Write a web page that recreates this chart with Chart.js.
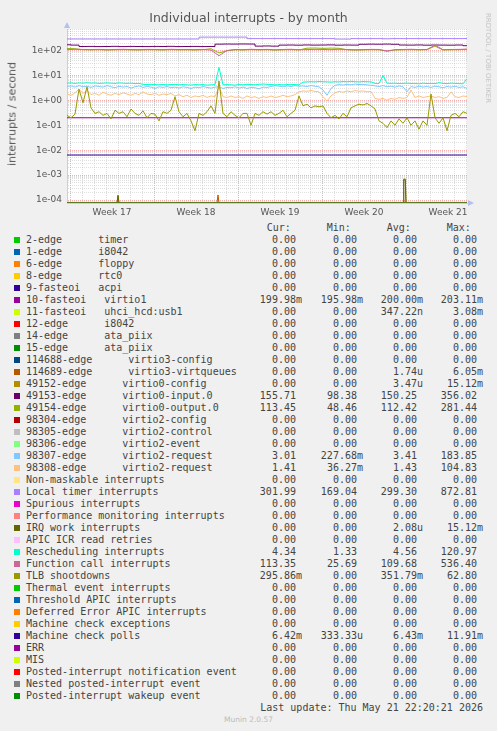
<!DOCTYPE html>
<html>
<head>
<meta charset="utf-8">
<script src="https://cdn.jsdelivr.net/npm/chart.js@4.4.1/dist/chart.umd.min.js"></script>
<style>
  body { margin: 0; background: #f0f0f0; width: 497px; height: 731px; position: relative; overflow: hidden;
         font-family: "DejaVu Sans", sans-serif; color: #555; }
  #chart { position: absolute; left: 0; top: 0; }
  .title { position: absolute; left: 0; top: 10px; width: 497px; text-align: center; font-size: 12.5px; }
  .ylab { position: absolute; left: 12px; top: 114px; transform: translate(-50%, -50%) rotate(-90deg);
          font-size: 11px; white-space: nowrap; }
  .rrd { position: absolute; left: 488px; top: 58px; transform: translate(-50%, -50%) rotate(90deg);
         font-size: 7px; color: #c4c4c4; white-space: nowrap; }
  .mono { position: absolute; font-family: "DejaVu Sans Mono", monospace; font-size: 10px; color: #444;
          height: 12px; line-height: 12px; white-space: pre; }
  .sw { position: absolute; left: 14px; width: 6px; height: 6px; }
  .munin { position: absolute; left: 0; width: 497px; top: 715px; text-align: center; font-size: 7.5px; color: #bbb; }
</style>
</head>
<body>
<canvas id="chart" width="497" height="222"></canvas>
<div class="title">Individual interrupts - by month</div>
<div class="ylab">interrupts / second</div>
<div class="rrd">RRDTOOL / TOBI OETIKER</div>
<div id="legend"></div>
<div class="munin">Munin 2.0.57</div>
<script>
// axis range / labels
const Y_MIN = 7.6e-5;
const Y_MAX = 730;
const weekLabels = ['Week 17', 'Week 18', 'Week 19', 'Week 20', 'Week 21'];

// munin palette
const palette = ['#00CC00', '#0066B3', '#FF8000', '#FFCC00', '#330099', '#990099', '#CCFF00', '#FF0000', '#808080',
  '#008F00', '#00487D', '#B35A00', '#B38F00', '#6B006B', '#8FB300', '#B30000', '#BEBEBE', '#80FF80', '#80C9FF',
  '#FFC080', '#FFE680', '#AA80FF', '#EE00CC', '#FF8080', '#666600', '#FFBFFF', '#00FFCC', '#CC6699', '#999900'];

const seriesNames = [
  '2-edge      timer', '1-edge      i8042', '6-edge      floppy', '8-edge      rtc0', '9-fasteoi   acpi',
  '10-fasteoi   virtio1', '11-fasteoi   uhci_hcd:usb1', '12-edge      i8042', '14-edge      ata_piix',
  '15-edge      ata_piix', '114688-edge      virtio3-config', '114689-edge      virtio3-virtqueues',
  '49152-edge      virtio0-config', '49153-edge      virtio0-input.0', '49154-edge      virtio0-output.0',
  '98304-edge      virtio2-config', '98305-edge      virtio2-control', '98306-edge      virtio2-event',
  '98307-edge      virtio2-request', '98308-edge      virtio2-request', 'Non-maskable interrupts',
  'Local timer interrupts', 'Spurious interrupts', 'Performance monitoring interrupts', 'IRQ work interrupts',
  'APIC ICR read retries', 'Rescheduling interrupts', 'Function call interrupts', 'TLB shootdowns',
  'Thermal event interrupts', 'Threshold APIC interrupts', 'Deferred Error APIC interrupts',
  'Machine check exceptions', 'Machine check polls', 'ERR', 'MIS', 'Posted-interrupt notification event',
  'Nested posted-interrupt event', 'Posted-interrupt wakeup event'];

const curVals = ['0.00','0.00','0.00','0.00','0.00','199.98m','0.00','0.00','0.00','0.00',
  '0.00','0.00','0.00','155.71','113.45','0.00','0.00','0.00','3.01','1.41',
  '0.00','301.99','0.00','0.00','0.00','0.00','4.34','113.35','295.86m','0.00',
  '0.00','0.00','0.00','6.42m','0.00','0.00','0.00','0.00','0.00'];
const minVals = ['0.00','0.00','0.00','0.00','0.00','195.98m','0.00','0.00','0.00','0.00',
  '0.00','0.00','0.00','98.38','48.46','0.00','0.00','0.00','227.68m','36.27m',
  '0.00','169.04','0.00','0.00','0.00','0.00','1.33','25.69','0.00','0.00',
  '0.00','0.00','0.00','333.33u','0.00','0.00','0.00','0.00','0.00'];
const avgVals = ['0.00','0.00','0.00','0.00','0.00','200.00m','347.22n','0.00','0.00','0.00',
  '0.00','1.74u','3.47u','150.25','112.42','0.00','0.00','0.00','3.41','1.43',
  '0.00','299.30','0.00','0.00','2.08u','0.00','4.56','109.68','351.79m','0.00',
  '0.00','0.00','0.00','6.43m','0.00','0.00','0.00','0.00','0.00'];
const maxVals = ['0.00','0.00','0.00','0.00','0.00','203.11m','3.08m','0.00','0.00','0.00',
  '0.00','6.05m','15.12m','356.02','281.44','0.00','0.00','0.00','183.85','104.83',
  '0.00','872.81','0.00','0.00','15.12m','0.00','120.97','536.40','62.80','0.00',
  '0.00','0.00','0.00','11.91m','0.00','0.00','0.00','0.00','0.00'];

// time grids, in 8-hour steps from the left edge
const fineX = Array.from({ length: 101 }, (_, i) => i);
const coarseX = Array.from({ length: 51 }, (_, i) => i * 2);
const flatX = [0, 100];

// series values (per second)
const tlb = [0.25, 0.2, 0.28, 2.8, 0.8, 3.5, 0.5, 0.3, 0.35, 0.25,
  0.3, 0.18, 0.4, 0.3, 0.35, 0.22, 0.45, 0.3, 0.25, 0.38,
  0.2, 0.3, 0.28, 0.15, 0.35, 0.3, 0.4, 1.4, 0.35, 0.22,
  0.3, 0.15, 0.06, 0.3, 0.25, 0.35, 0.6, 0.3, 6.0, 0.3,
  0.22, 0.35, 0.25, 0.2, 0.3, 0.3, 0.1, 0.3, 0.25, 0.35,
  0.28, 0.35, 0.25, 0.3, 0.4, 0.22, 0.3, 0.4, 1.5, 0.6,
  0.7, 0.5, 0.6, 0.55, 0.6, 0.3, 0.2, 0.25, 0.18, 0.3,
  0.22, 0.5, 0.6, 0.7, 0.65, 0.75, 0.6, 0.45, 0.15, 0.12,
  0.08, 0.15, 0.1, 0.18, 0.12, 0.2, 0.1, 0.15, 0.07, 0.15,
  0.1, 1.8, 0.2, 0.12, 0.2, 0.06, 0.25, 0.3, 0.22, 0.35, 0.3];
const req98307 = [3.6, 3.8, 3.4, 3.9, 3.5, 3.7, 3.3, 3.8, 3.6, 3.4,
  3.9, 3.5, 3.2, 3.7, 3.4, 3.6, 3.1, 3.5, 3.8, 3.3,
  3.6, 3.4, 3.0, 3.5, 3.3, 3.6, 3.2, 3.4, 3.1, 3.5,
  3.3, 3.0, 3.4, 3.2, 3.6, 3.3, 3.1, 3.4, 3.5, 3.0,
  3.3, 3.2, 3.5, 3.1, 3.4, 3.0, 3.3, 3.2, 2.9, 3.4,
  3.3, 3.6, 3.9, 3.7, 3.5, 3.8, 3.6, 3.9, 3.7, 3.8,
  3.6, 3.9, 3.7, 3.5, 2.6, 1.6, 3.0, 4.0, 4.3, 4.1,
  4.4, 4.2, 4.5, 4.3, 4.4, 4.2, 4.0, 3.8, 3.6, 3.9,
  3.5, 3.7, 3.4, 3.8, 3.5, 2.2, 3.6, 3.3, 3.7, 3.4,
  3.6, 3.3, 3.7, 3.5, 3.2, 3.6, 3.4, 3.7, 3.3, 3.5, 3.01];
const req98308 = [1.8, 1.6, 2.0, 2.8, 1.9, 2.5, 1.7, 1.9, 1.6, 2.1,
  1.8, 1.6, 1.9, 1.7, 2.0, 1.8, 1.6, 1.9, 1.7, 2.2,
  1.8, 1.7, 1.9, 1.6, 1.8, 1.7, 1.9, 1.5, 1.7, 1.4,
  1.6, 1.3, 1.5, 1.4, 1.6, 1.3, 1.5, 1.4, 3.5, 1.4,
  1.3, 1.5, 1.3, 1.4, 1.2, 1.5, 1.3, 1.4, 1.2, 1.4,
  1.3, 1.5, 1.3, 1.4, 1.6, 1.4, 1.5, 1.7, 2.2, 2.4,
  2.3, 2.5, 2.3, 2.2, 1.4, 0.95, 1.5, 2.0, 2.3, 2.1,
  2.4, 2.2, 2.5, 2.3, 2.4, 2.2, 2.3, 1.2, 1.1, 1.2,
  1.0, 1.2, 1.1, 1.3, 1.2, 1.3, 2.6, 1.3, 1.5, 1.3,
  1.4, 1.5, 1.3, 1.4, 1.2, 1.3, 2.2, 1.4, 1.3, 1.5, 1.41];
const resched = [4.9, 5.0, 4.8, 5.0, 4.9, 5.1, 4.9, 5.0, 4.8, 4.9,
  5.0, 4.9, 4.8, 5.0, 4.9, 4.8, 4.9, 4.7, 4.8, 4.4,
  4.3, 4.4, 4.3, 4.2, 4.4, 4.2, 4.3, 4.4, 4.2, 4.3,
  4.2, 4.1, 4.3, 4.2, 4.3, 4.1, 4.2, 4.3, 21, 4.2,
  4.3, 4.2, 4.1, 4.3, 4.2, 4.4, 4.3, 4.2, 4.4, 4.5,
  4.4, 4.3, 4.2, 4.3, 4.2, 4.3, 4.4, 4.3, 4.2, 5.4,
  5.5, 5.6, 5.5, 5.7, 5.6, 5.5, 5.4, 5.6, 5.5, 5.7,
  5.6, 5.8, 5.6, 5.5, 5.7, 5.6, 5.5, 4.8, 4.7, 10,
  4.9, 4.8, 4.9, 4.7, 4.8, 4.9, 4.7, 4.8, 4.6, 4.9,
  4.7, 4.8, 4.7, 5.1, 4.8, 4.7, 4.9, 4.8, 4.7, 4.6, 7.5];
const localTimer = [290, 290, 290, 290, 290, 290, 290, 290, 290, 290,
  290, 290, 290, 290, 290, 290, 290, 345, 345, 345,
  345, 345, 345, 300, 300, 300, 300, 300, 300, 300,
  300, 300, 300, 300, 288, 288, 300, 300, 300, 300,
  296, 300, 300, 300, 300, 300, 300, 300, 300, 300, 302];
const input0 = [170, 165, 145, 146, 144, 145, 147, 144, 146, 145,
  144, 146, 145, 147, 144, 145, 146, 144, 145, 180,
  182, 181, 183, 182, 150, 152, 150, 165, 166, 164,
  167, 165, 166, 168, 164, 166, 165, 178, 180, 179,
  181, 178, 166, 165, 167, 164, 166, 165, 164, 166, 156];
const output0 = [120, 118, 108, 106, 108, 105, 107, 109, 106, 105,
  108, 107, 105, 109, 106, 107, 105, 108, 118, 80,
  98, 107, 105, 109, 106, 108, 104, 107, 109, 105,
  124, 126, 122, 125, 123, 107, 104, 106, 108, 107,
  94, 105, 107, 109, 106, 108, 150, 105, 107, 108, 113];
const funcCall = [108, 112, 110, 109, 111, 107, 110, 112, 109, 108,
  111, 110, 108, 112, 109, 110, 108, 111, 104, 62,
  100, 110, 108, 112, 109, 111, 107, 110, 112, 108,
  109, 111, 110, 108, 112, 110, 107, 109, 111, 110,
  96, 108, 110, 112, 109, 110, 165, 108, 110, 111, 113];
const virtio1 = [0.2, 0.2];
const mcePolls = [0.0064, 0.0064];
const zeroes = [0, 0];
// short bursts near the floor
const cfgX = [0, 12.5, 12.75, 13, 84, 84.15, 84.6, 84.75, 100];
const cfgY = [0, 0, 1.6e-4, 0, 0, 7e-4, 7e-4, 0, 0];
const irqX = [0, 12.5, 12.75, 13, 84, 84.2, 84.55, 84.75, 100];
const irqY = [0, 0, 1.5e-4, 0, 0, 6.5e-4, 6.5e-4, 0, 0];
const vqX = [0, 37.5, 37.75, 38, 100];
const vqY = [0, 0, 1.6e-4, 0, 0];

const seriesData = {
  5: [flatX, virtio1], 11: [vqX, vqY], 12: [cfgX, cfgY], 13: [coarseX, input0, 'middle'],
  14: [coarseX, output0], 18: [fineX, req98307], 19: [fineX, req98308], 21: [coarseX, localTimer, 'middle'],
  24: [irqX, irqY], 26: [fineX, resched], 27: [coarseX, funcCall], 28: [fineX, tlb], 33: [flatX, mcePolls]
};

const datasets = seriesNames.map((name, i) => {
  const [xs, ys, stepped] = seriesData[i] || [flatX, zeroes];
  return {
    label: name,
    // zero cannot sit on a log axis: rrdtool draws it on the floor
    data: xs.map((x, j) => ({ x: x, y: Math.max(ys[j], Y_MIN) })),
    borderColor: palette[i % palette.length],
    borderWidth: 1,
    pointRadius: 0,
    stepped: stepped || false,
    order: -i
  };
});

function isDecade(v) {
  const l = Math.log10(v);
  return Math.abs(l - Math.round(l)) < 1e-9;
}

const MAJOR = 'rgba(240,120,120,0.6)';
const MINOR = 'rgba(185,185,185,0.45)';

const plotFrame = {
  id: 'plotFrame',
  beforeDraw(chart) {
    const { ctx, chartArea: a } = chart;
    ctx.save();
    ctx.fillStyle = '#ffffff';
    ctx.fillRect(a.left, a.top, a.right - a.left, a.bottom - a.top);
    ctx.restore();
  },
  afterDraw(chart) {
    const { ctx, chartArea: a } = chart;
    ctx.save();
    ctx.fillStyle = '#b4bff2';
    ctx.beginPath();
    ctx.moveTo(a.left - 3, a.top - 1);
    ctx.lineTo(a.left + 3, a.top - 1);
    ctx.lineTo(a.left, a.top - 7);
    ctx.fill();
    ctx.beginPath();
    ctx.moveTo(a.right + 1, a.bottom - 3);
    ctx.lineTo(a.right + 1, a.bottom + 3);
    ctx.lineTo(a.right + 7, a.bottom);
    ctx.fill();
    ctx.restore();
  }
};

new Chart(document.getElementById('chart'), {
  type: 'line',
  data: { datasets: datasets },
  plugins: [plotFrame],
  options: {
    responsive: false,
    animation: false,
    events: [],
    layout: { padding: { top: 29, right: 30, left: 0, bottom: 0 } },
    plugins: { legend: { display: false }, tooltip: { enabled: false } },
    elements: { line: { tension: 0 } },
    scales: {
      x: {
        type: 'linear',
        min: 0,
        max: 100,
        afterFit: s => { s.height = 19; },
        afterBuildTicks: s => {
          const t = [];
          for (let d = 0.75; d < 100; d += 3) t.push({ value: d });
          weekLabels.forEach((w, k) => t.push({ value: 11.25 + 21 * k }));
          t.sort((a, b) => a.value - b.value);
          s.ticks = t;
        },
        ticks: {
          autoSkip: false,
          maxRotation: 0,
          padding: 4,
          color: '#555',
          font: { family: 'DejaVu Sans', size: 9 },
          callback: v => {
            const k = Math.round((v - 11.25) / 21);
            return Math.abs(v - (11.25 + 21 * k)) < 0.01 ? weekLabels[k] : '';
          }
        },
        grid: {
          drawTicks: false,
          lineWidth: 1,
          color: ctx => {
            const v = ctx.tick.value;
            if (Math.abs((v - 11.25) / 21 - Math.round((v - 11.25) / 21)) < 0.001) return 'rgba(0,0,0,0)';
            if (Math.abs((v - 0.75) / 21 - Math.round((v - 0.75) / 21)) < 0.001) return MAJOR;
            return MINOR;
          }
        },
        border: { display: true, color: '#c6cdf0', dash: [1, 1] }
      },
      y: {
        type: 'logarithmic',
        min: Y_MIN,
        max: Y_MAX,
        afterFit: s => { s.width = 67; },
        afterBuildTicks: s => {
          const t = [];
          for (let e = -5; e <= 2; e++) {
            for (let m = 1; m <= 9; m++) {
              const v = m * Math.pow(10, e);
              if (v >= Y_MIN && v <= Y_MAX) t.push({ value: v });
            }
          }
          s.ticks = t;
        },
        ticks: {
          autoSkip: false,
          padding: 5,
          color: '#555',
          font: { family: 'DejaVu Sans', size: 9 },
          callback: v => {
            if (!isDecade(v)) return '';
            const e = Math.round(Math.log10(v));
            return '1e' + (e < 0 ? '-' : '+') + String(Math.abs(e)).padStart(2, '0');
          }
        },
        grid: {
          drawTicks: false,
          lineWidth: 1,
          color: ctx => isDecade(ctx.tick.value) ? MAJOR : MINOR
        },
        border: { display: true, color: '#c6cdf0', dash: [1, 1] }
      }
    }
  }
});

// legend table below the graph
const legend = document.getElementById('legend');
function addText(text, left, right, top) {
  const d = document.createElement('div');
  d.className = 'mono';
  d.textContent = text;
  d.style.top = top + 'px';
  if (left !== null) d.style.left = left + 'px';
  else { d.style.right = (497 - right) + 'px'; d.style.textAlign = 'right'; }
  legend.appendChild(d);
}
const withUnit = s => /[a-z]$/.test(s) ? s : s + ' ';
addText('Cur:', 266.7, null, 222);
addText('Min:', 326.7, null, 222);
addText('Avg:', 386.7, null, 222);
addText('Max:', 446.7, null, 222);
seriesNames.forEach((name, i) => {
  const top = 234 + 12 * i;
  const sw = document.createElement('div');
  sw.className = 'sw';
  sw.style.top = (top + 3) + 'px';
  sw.style.background = palette[i % palette.length];
  legend.appendChild(sw);
  addText(name, 26, null, top);
  addText(withUnit(curVals[i]), null, 302, top);
  addText(withUnit(minVals[i]), null, 363, top);
  addText(withUnit(avgVals[i]), null, 423, top);
  addText(withUnit(maxVals[i]), null, 483, top);
});
addText('Last update: Thu May 21 22:20:21 2026', null, 483, 234 + 12 * 39);
</script>
</body>
</html>
